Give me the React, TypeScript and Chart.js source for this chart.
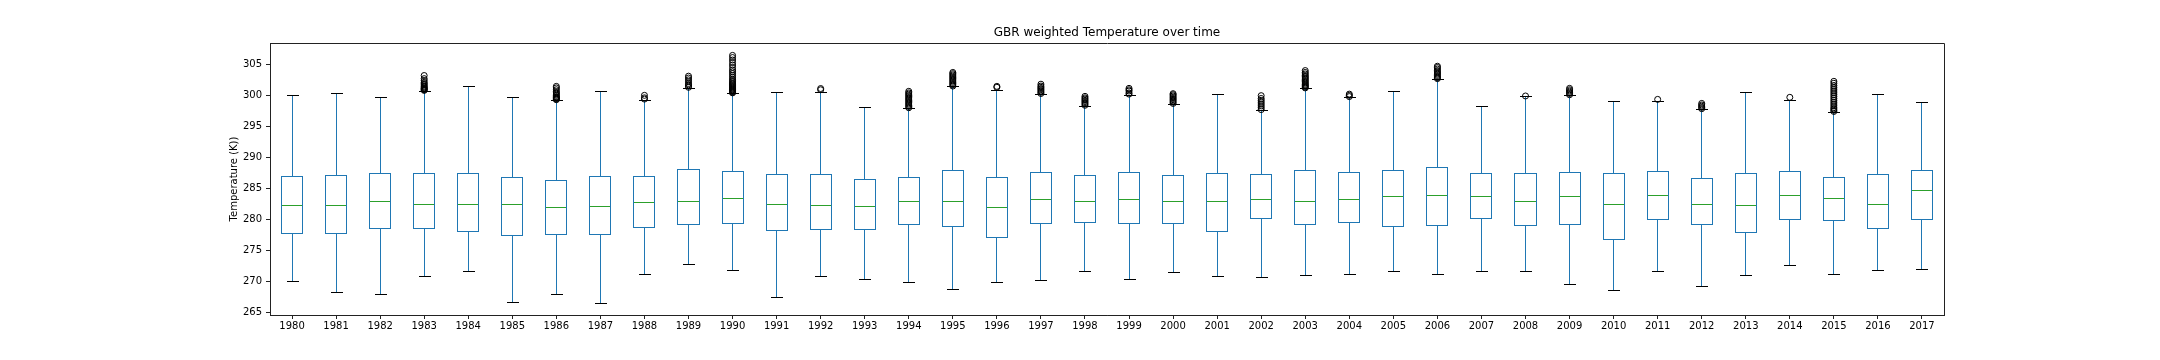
import { useEffect, useRef } from "react";
import { Chart, registerables } from "chart.js";

Chart.register(...registerables);

const FONT = "'DejaVu Sans', sans-serif";

const years = [
  "1980", "1981", "1982", "1983", "1984", "1985", "1986", "1987", "1988", "1989",
  "1990", "1991", "1992", "1993", "1994", "1995", "1996", "1997", "1998", "1999",
  "2000", "2001", "2002", "2003", "2004", "2005", "2006", "2007", "2008", "2009",
  "2010", "2011", "2012", "2013", "2014", "2015", "2016", "2017",
];

const whiskerLow = [
  270.0, 268.23, 267.9, 270.81, 271.61, 266.61, 267.9, 266.45, 271.13, 272.74,
  271.77, 267.42, 270.81, 270.32, 269.84, 268.71, 269.84, 270.16, 271.61, 270.32,
  271.45, 270.81, 270.65, 270.97, 271.13, 271.61, 271.13, 271.61, 271.61, 269.52,
  268.55, 271.61, 269.19, 270.97, 272.58, 271.13, 271.77, 271.94,
];

const q1 = [
  277.74, 277.74, 278.55, 278.55, 278.06, 277.42, 277.58, 277.58, 278.71, 279.19,
  279.35, 278.23, 278.39, 278.39, 279.19, 278.87, 277.1, 279.35, 279.52, 279.35,
  279.35, 278.06, 280.16, 279.19, 279.52, 278.87, 279.03, 280.16, 279.03, 279.19,
  276.77, 280.0, 279.19, 277.9, 280.0, 279.84, 278.55, 280.0,
];

const median = [
  282.26, 282.26, 282.9, 282.42, 282.42, 282.42, 281.94, 282.1, 282.74, 282.9,
  283.39, 282.42, 282.26, 282.1, 282.9, 282.9, 281.94, 283.23, 282.9, 283.23,
  282.9, 282.9, 283.23, 282.9, 283.23, 283.71, 283.87, 283.71, 282.9, 283.71,
  282.42, 283.87, 282.42, 282.26, 283.87, 283.39, 282.42, 284.68,
];

const q3 = [
  286.94, 287.1, 287.42, 287.42, 287.42, 286.77, 286.29, 286.94, 286.94, 288.06,
  287.74, 287.26, 287.26, 286.45, 286.77, 287.9, 286.77, 287.58, 287.1, 287.58,
  287.1, 287.42, 287.26, 287.9, 287.58, 287.9, 288.39, 287.42, 287.42, 287.58,
  287.42, 287.74, 286.61, 287.42, 287.74, 286.77, 287.26, 287.9,
];

const whiskerHigh = [
  300.0, 300.32, 299.68, 300.65, 301.45, 299.68, 299.19, 300.65, 299.19, 301.13,
  300.32, 300.48, 300.48, 298.06, 297.9, 301.45, 300.81, 300.16, 298.23, 300.0,
  298.55, 300.16, 297.58, 301.13, 299.68, 300.65, 302.58, 298.23, 299.75, 300.0,
  299.03, 299.03, 297.74, 300.48, 299.19, 297.26, 300.16, 298.87,
];

const outliers: number[][] = [
  [],
  [],
  [],
  [300.8, 300.9, 301.0, 301.1, 301.2, 301.35, 301.5, 301.7, 301.9, 302.1, 302.4, 302.7, 303.2],
  [],
  [],
  [299.3, 299.4, 299.5, 299.6, 299.7, 299.8, 300.0, 300.2, 300.4, 300.6, 300.9, 301.2, 301.45],
  [],
  [299.4, 299.6, 300.0],
  [301.3, 301.5, 301.7, 301.9, 302.2, 302.5, 302.8, 303.1],
  [300.4, 300.5, 300.6, 300.7, 300.8, 300.9, 301.0, 301.1, 301.25, 301.4, 301.55, 301.7, 301.85, 302.0, 302.2, 302.4, 302.6, 302.9, 303.2, 303.5, 303.8, 304.1, 304.5, 304.9, 305.3, 305.7, 306.1, 306.45],
  [],
  [300.9, 301.1],
  [],
  [298.0, 298.2, 298.4, 298.6, 298.8, 299.0, 299.2, 299.4, 299.6, 299.8, 300.0, 300.2, 300.4, 300.65],
  [301.5, 301.7, 301.9, 302.1, 302.3, 302.5, 302.7, 302.9, 303.1, 303.3, 303.5, 303.7],
  [301.3, 301.45],
  [300.3, 300.5, 300.7, 300.9, 301.1, 301.3, 301.5, 301.8],
  [298.4, 298.6, 298.8, 299.0, 299.2, 299.4, 299.6, 299.84],
  [300.2, 300.4, 300.7, 300.9, 301.13],
  [298.7, 298.9, 299.1, 299.3, 299.5, 299.7, 299.9, 300.1, 300.27],
  [],
  [297.7, 298.0, 298.3, 298.6, 298.9, 299.2, 299.5, 299.95],
  [301.2, 301.35, 301.5, 301.65, 301.8, 302.0, 302.2, 302.4, 302.6, 302.8, 303.0, 303.2, 303.45, 303.7, 304.0],
  [299.8, 300.0, 300.2],
  [],
  [302.7, 302.85, 303.0, 303.2, 303.4, 303.6, 303.8, 304.0, 304.25, 304.5, 304.7],
  [],
  [299.9],
  [300.1, 300.3, 300.5, 300.7, 300.9, 301.13],
  [],
  [299.35],
  [297.85, 298.05, 298.25, 298.45, 298.7],
  [],
  [299.68],
  [297.4, 297.6, 297.8, 298.0, 298.3, 298.6, 298.9, 299.2, 299.5, 299.8, 300.1, 300.4, 300.7, 301.0, 301.3, 301.6, 301.95, 302.26],
  [],
  [],
];

const BLUE = "#1f77b4";
const GREEN = "#2ca02c";
const AXIS = "#222222";

const whiskerPlugin = {
  id: "boxWhiskers",
  beforeDatasetsDraw(chart: any) {
    const { ctx } = chart;
    const xs = chart.scales.x;
    const ys = chart.scales.y;
    const cw = xs.getPixelForValue(1) - xs.getPixelForValue(0);
    const capHalf = cw * 0.125;
    const py = (v: number) => Math.floor(ys.getPixelForValue(v)) + 0.5;
    ctx.save();
    ctx.lineWidth = 1;
    years.forEach((_, i) => {
      const cxRaw = xs.getPixelForValue(i);
      const cx = Math.floor(cxRaw) + 0.5;
      ctx.strokeStyle = BLUE;
      ctx.beginPath();
      ctx.moveTo(cx, py(whiskerLow[i]));
      ctx.lineTo(cx, py(q1[i]));
      ctx.moveTo(cx, py(q3[i]));
      ctx.lineTo(cx, py(whiskerHigh[i]));
      ctx.stroke();
      ctx.strokeStyle = "#000";
      ctx.beginPath();
      ctx.moveTo(Math.round(cxRaw - capHalf), py(whiskerLow[i]));
      ctx.lineTo(Math.round(cxRaw + capHalf) + 1, py(whiskerLow[i]));
      ctx.moveTo(Math.round(cxRaw - capHalf), py(whiskerHigh[i]));
      ctx.lineTo(Math.round(cxRaw + capHalf) + 1, py(whiskerHigh[i]));
      ctx.stroke();
    });
    ctx.restore();
  },
  afterDatasetsDraw(chart: any) {
    const { ctx } = chart;
    const ys = chart.scales.y;
    const meta = chart.getDatasetMeta(1);
    ctx.save();
    ctx.lineWidth = 1;
    meta.data.forEach((bar: any, i: number) => {
      const { x, y, base, width } = bar.getProps(["x", "y", "base", "width"], true);
      const l = Math.round(x - width / 2) + 0.5;
      const r = Math.round(x + width / 2) - 0.5;
      const t = Math.floor(Math.min(y, base)) + 0.5;
      const b = Math.floor(Math.max(y, base)) + 0.5;
      ctx.strokeStyle = BLUE;
      ctx.strokeRect(l, t, r - l, b - t);
      const my = Math.floor(ys.getPixelForValue(median[i])) + 0.5;
      ctx.strokeStyle = GREEN;
      ctx.beginPath();
      ctx.moveTo(l + 0.5, my);
      ctx.lineTo(r - 0.5, my);
      ctx.stroke();
    });
    const a = chart.chartArea;
    ctx.strokeStyle = AXIS;
    ctx.beginPath();
    ctx.rect(
      Math.floor(a.left) + 0.5,
      Math.floor(a.top) + 0.5,
      Math.floor(a.right) - Math.floor(a.left),
      Math.floor(a.bottom) - Math.floor(a.top)
    );
    ctx.stroke();
    ctx.restore();
  },
};

export default function App() {
  const canvasRef = useRef<HTMLCanvasElement | null>(null);

  useEffect(() => {
    const canvas = canvasRef.current;
    if (!canvas) return;
    const outlierPoints = outliers.flatMap((vals, i) => vals.map((v) => ({ x: years[i], y: v })));
    const chart = new Chart(canvas, {
      type: "bar",
      data: {
        labels: years,
        datasets: [
          {
            type: "line",
            data: outlierPoints as any,
            showLine: false,
            pointRadius: 3,
            pointHoverRadius: 3,
            pointBorderWidth: 1,
            pointBorderColor: "#000",
            pointBackgroundColor: "rgba(0,0,0,0)",
            order: 0,
          } as any,
          {
            type: "bar",
            data: years.map((_, i) => [q1[i], q3[i]]) as any,
            backgroundColor: "rgba(0,0,0,0)",
            borderColor: "rgba(0,0,0,0)",
            borderWidth: 0,
            borderSkipped: false,
            barPercentage: 0.5,
            categoryPercentage: 1.0,
            order: 1,
          } as any,
        ],
      },
      options: {
        responsive: false,
        animation: false,
        devicePixelRatio: 1,
        layout: { padding: { left: 0, right: 216, top: 0, bottom: 0 } },
        plugins: {
          legend: { display: false },
          tooltip: { enabled: false },
          title: {
            display: true,
            text: "GBR weighted Temperature over time",
            fullSize: false,
            color: "#000",
            font: { family: FONT, size: 12, weight: "normal", lineHeight: 1.2 },
            padding: { top: 25.5, bottom: 3.1 },
          },
        },
        scales: {
          x: {
            type: "category",
            offset: true,
            grid: {
              display: true,
              drawOnChartArea: false,
              drawTicks: true,
              tickLength: 4,
              offset: false,
              color: AXIS,
            },
            border: { display: true, color: AXIS, width: 1 },
            ticks: {
              color: "#000",
              font: { family: FONT, size: 10 },
              padding: 1,
              autoSkip: false,
              maxRotation: 0,
            },
            afterFit: (s: any) => {
              s.height = 45;
            },
          },
          y: {
            type: "linear",
            min: 264.55,
            max: 308.45,
            grid: { drawOnChartArea: false, drawTicks: true, tickLength: 4, color: AXIS },
            border: { display: true, color: AXIS, width: 1 },
            ticks: {
              stepSize: 5,
              includeBounds: false,
              color: "#000",
              font: { family: FONT, size: 10 },
              padding: 4,
            },
            title: {
              display: true,
              text: "Temperature (K))",
              color: "#000",
              font: { family: FONT, size: 10 },
              padding: { top: 228, bottom: 0 },
            },
            afterFit: (s: any) => {
              s.width = 270;
            },
          },
        },
      } as any,
      plugins: [whiskerPlugin],
    });
    return () => chart.destroy();
  }, []);

  return (
    <div style={{ position: "absolute", left: 0, top: 0, width: 2160, height: 360, background: "#fff" }}>
      <canvas ref={canvasRef} width={2160} height={360} style={{ width: 2160, height: 360, display: "block" }} />
    </div>
  );
}
